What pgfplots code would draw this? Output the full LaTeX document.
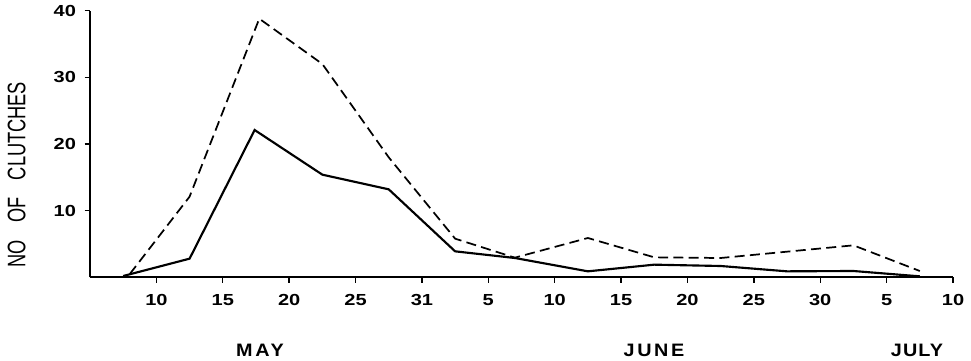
\documentclass[border=0pt]{standalone}
\usepackage{fontspec}
\setmainfont{Liberation Sans}
\newfontfamily\ylabfont[FakeStretch=0.72]{Liberation Sans}
\newfontfamily\tickfont[FakeStretch=1.25]{Liberation Sans}
\newfontfamily\monfont[FakeStretch=1.1]{Liberation Sans}
\usepackage{pgfplots}
\usetikzlibrary{calc}
\pgfplotsset{compat=1.18}
\begin{document}
\begin{tikzpicture}
\begin{axis}[
  name=ax,
  scale only axis,
  width=647.25pt, height=200pt,
  xmin=-1, xmax=12, ymin=0, ymax=40,
  axis lines*=left,
  axis line style={line width=1.3pt},
  xtick={0,1,2,3,4,5,6,7,8,9,10,11,12},
  xticklabels={10,15,20,25,31,5,10,15,20,25,30,5,10},
  ytick={10,20,30,40},
  tick align=outside,
  major tick length=4pt,
  tick style={line width=1pt, black},
  /pgf/number format/assume math mode=true,
  ticklabel style={font=\tickfont\bfseries\fontsize{12}{13}\selectfont},
  xticklabel style={yshift=-5pt},
  yticklabel style={xshift=-3pt},
  clip=false,
]
\addplot[black, line width=1.6pt] coordinates {
 (-0.5,0.2) (0.5,2.8) (1.48,22.1) (2.5,15.4) (3.5,13.2) (4.5,3.9) (5.4,2.9)
 (6.5,0.9) (7.5,1.9) (8.5,1.7) (9.5,0.9) (10.5,0.95) (11.5,0.15)
};
\addplot[black, line width=1.3pt, dash pattern=on 7.5pt off 4pt] coordinates {
 (-0.4,0.5) (0.5,12.1) (1.55,38.8) (2.5,32) (3.5,18) (4.5,5.8) (5.4,2.95)
 (6.5,5.9) (7.5,3.0) (8.5,2.9) (10.5,4.8) (11.5,0.95)
};
\end{axis}
\node[font=\monfont\bfseries\fontsize{13.5}{14}\selectfont\addfontfeature{LetterSpace=15}] at ($(ax.south west)+(127.5pt,-55pt)$) {MAY};
\node[font=\monfont\bfseries\fontsize{13.5}{14}\selectfont\addfontfeature{LetterSpace=15}] at ($(ax.south west)+(423pt,-55pt)$) {JUNE};
\node[font=\monfont\bfseries\fontsize{13.5}{14}\selectfont\addfontfeature{LetterSpace=6}] at ($(ax.south west)+(620.25pt,-55pt)$) {JULY};
\node[rotate=90, font=\ylabfont\fontsize{19}{20}\selectfont] at ($(ax.south west)+(-55.1pt,77pt)$) {NO\hspace{13pt}OF\hspace{13pt}CLUTCHES};
\pgfresetboundingbox
\path ($(ax.south west)+(-67.5pt,-62.25pt)$) rectangle ($(ax.north east)+(13.5pt,8pt)$);
\end{tikzpicture}
\end{document}
